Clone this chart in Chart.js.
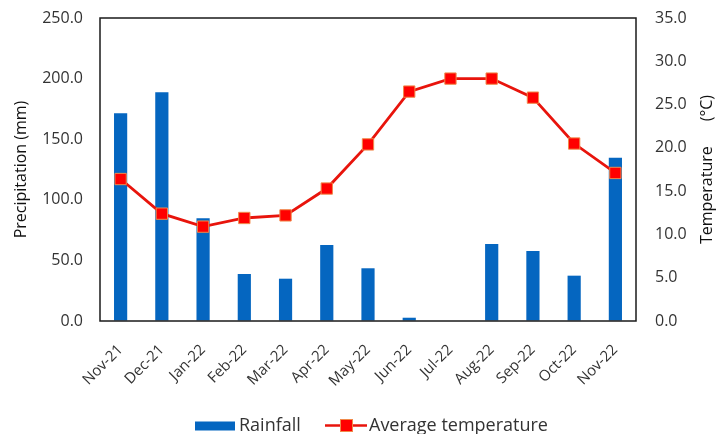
<!DOCTYPE html>
<html>
<head>
<meta charset="utf-8">
<script src="https://cdn.jsdelivr.net/npm/chart.js@4"></script>
<style>
  html, body { margin: 0; padding: 0; background: #ffffff; }
  #wrap { width: 721px; height: 434px; position: relative; }
</style>
</head>
<body>
<div id="wrap"><canvas id="c" width="721" height="434"></canvas></div>
<script>
// Monthly climate record, Nov 2021 – Nov 2022
const months = ['Nov-21','Dec-21','Jan-22','Feb-22','Mar-22','Apr-22','May-22','Jun-22','Jul-22','Aug-22','Sep-22','Oct-22','Nov-22'];
const rainfall = [171.5, 188.7, 84.7, 38.8, 34.9, 62.7, 43.5, 2.7, 0, 63.5, 57.8, 37.4, 134.7];
const avgTemperature = [16.4, 12.4, 10.9, 11.9, 12.2, 15.3, 20.4, 26.5, 28.0, 28.0, 25.8, 20.5, 17.1];
const precipTicks = [0, 50, 100, 150, 200, 250];
const tempTicks = [0, 5, 10, 15, 20, 25, 30, 35];
const precipTitle = 'Precipitation (mm)';
const tempTitle = 'Temperature      (°C)';

const FONT = "'Open Sans', 'Noto Sans', sans-serif";
const TXT = '#333333';
const BLUE = '#0566C0';
const RED = '#E8140C';

// Black frame round the plotting area
const framePlugin = {
  id: 'frame',
  afterDatasetsDraw(chart) {
    const a = chart.chartArea, ctx = chart.ctx;
    ctx.save();
    ctx.strokeStyle = '#1a1a1a';
    ctx.lineWidth = 1.5;
    ctx.strokeRect(a.left, a.top, a.right - a.left, a.bottom - a.top);
    ctx.restore();
  }
};

// Axis titles, both reading bottom to top
const titlePlugin = {
  id: 'axisTitles',
  afterDraw(chart) {
    const a = chart.chartArea, ctx = chart.ctx;
    const cy = (a.top + a.bottom) / 2;
    ctx.save();
    ctx.font = '16px ' + FONT;
    ctx.fillStyle = '#111111';
    ctx.textAlign = 'center';
    ctx.textBaseline = 'middle';
    [[21, precipTitle, cy], [707, tempTitle, cy]].forEach(([x, t, y]) => {
      ctx.save();
      ctx.translate(x, y);
      ctx.rotate(-Math.PI / 2);
      ctx.fillText(t, 0, 0);
      ctx.restore();
    });
    ctx.restore();
  }
};

// Legend under the axis: bar swatch, then line with square marker
const legendPlugin = {
  id: 'bottomLegend',
  afterDraw(chart) {
    const ctx = chart.ctx;
    const bar = chart.data.datasets.find(d => d.type === 'bar');
    const line = chart.data.datasets.find(d => d.type === 'line');
    const y = 425.5;
    ctx.save();
    ctx.font = '18px ' + FONT;
    ctx.textBaseline = 'middle';
    // Rainfall
    ctx.fillStyle = bar.backgroundColor;
    ctx.fillRect(195, y - 4, 40, 9);
    ctx.fillStyle = TXT;
    ctx.fillText(bar.label, 239, y);
    // Average temperature
    ctx.strokeStyle = line.borderColor;
    ctx.lineWidth = 2.5;
    ctx.beginPath();
    ctx.moveTo(325, y);
    ctx.lineTo(367, y);
    ctx.stroke();
    ctx.fillStyle = line.pointBackgroundColor;
    ctx.strokeStyle = line.pointBorderColor;
    ctx.lineWidth = 1;
    ctx.fillRect(340.5, y - 6, 12, 12);
    ctx.strokeRect(340.5, y - 6, 12, 12);
    ctx.fillStyle = TXT;
    ctx.fillText(line.label, 369, y);
    ctx.restore();
  }
};

// Invisible tick marks: they only set the gap between axis and labels
const hiddenTicks = (len) => ({
  display: true,
  drawOnChartArea: false,
  drawTicks: true,
  tickLength: len,
  color: 'rgba(0,0,0,0)'
});

new Chart(document.getElementById('c'), {
  data: {
    labels: months,
    datasets: [
      {
        type: 'line',
        label: 'Average temperature',
        data: avgTemperature,
        yAxisID: 'yT',
        borderColor: RED,
        borderWidth: 2.8,
        pointStyle: 'rect',
        pointRadius: 8,
        pointBackgroundColor: '#FF0000',
        pointBorderColor: '#F08A4B',
        pointBorderWidth: 1,
        tension: 0,
        order: 0
      },
      {
        type: 'bar',
        label: 'Rainfall',
        data: rainfall,
        yAxisID: 'yP',
        backgroundColor: BLUE,
        barPercentage: 0.32,
        categoryPercentage: 1,
        order: 1
      }
    ]
  },
  options: {
    responsive: false,
    animation: false,
    devicePixelRatio: 1,
    layout: { padding: { top: 18, left: 0, right: 0, bottom: 0 } },
    plugins: {
      legend: { display: false },
      tooltip: { enabled: false }
    },
    scales: {
      x: {
        grid: hiddenTicks(20),
        border: { display: false },
        ticks: {
          color: TXT,
          font: { family: FONT, size: 15 },
          maxRotation: 45,
          minRotation: 45,
          padding: 0,
          autoSkip: false
        },
        afterFit(s) { s.height = 113; }
      },
      yP: {
        position: 'left',
        min: 0,
        max: 250,
        afterBuildTicks(s) { s.ticks = precipTicks.map(v => ({ value: v })); },
        grid: hiddenTicks(17),
        border: { display: false },
        ticks: {
          color: TXT,
          font: { family: FONT, size: 16 },
          padding: 0,
          callback: v => Number(v).toFixed(1)
        },
        afterFit(s) { s.width = 100; }
      },
      yT: {
        position: 'right',
        min: 0,
        max: 35,
        afterBuildTicks(s) { s.ticks = tempTicks.map(v => ({ value: v })); },
        grid: hiddenTicks(19),
        border: { display: false },
        ticks: {
          color: TXT,
          font: { family: FONT, size: 16 },
          padding: 0,
          callback: v => Number(v).toFixed(1)
        },
        afterFit(s) { s.width = 85; }
      }
    }
  },
  plugins: [framePlugin, titlePlugin, legendPlugin]
});
</script>
</body>
</html>
